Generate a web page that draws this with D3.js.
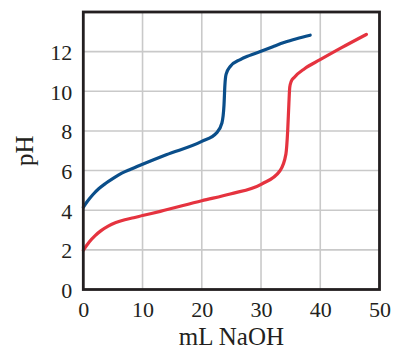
<!DOCTYPE html>
<html><head><meta charset="utf-8">
<script src="https://cdn.jsdelivr.net/npm/d3@7"></script>
<style>html,body{margin:0;padding:0;background:#fff;}svg{display:block;}</style>
</head><body>
<svg id="chart" width="393" height="349"></svg>
<script>
const xTicks = [0, 10, 20, 30, 40, 50];
const yTicks = [0, 2, 4, 6, 8, 10, 12];
const xLabel = "mL NaOH";
const yLabel = "pH";
const blueX = [0, 0.7, 1.6, 2.6, 3.8, 5.1, 6.5, 8, 10, 14, 20, 22.5, 23.4, 23.75, 23.9, 24.1, 24.8, 26.5, 28, 30, 32, 34, 36, 38.3];
const blueY = [4.15, 4.45, 4.78, 5.08, 5.36, 5.62, 5.87, 6.07, 6.32, 6.8, 7.47, 7.9, 8.4, 9.3, 10.3, 10.85, 11.25, 11.6, 11.8, 12.02, 12.25, 12.47, 12.65, 12.83];
const redX = [0, 1, 2, 3, 4.2, 5.5, 7, 8.5, 10, 13, 20, 24.8, 30.1, 33.2, 34.2, 34.5, 34.7, 34.85, 35.1, 35.6, 37.4, 39.9, 43.6, 47.8];
const redY = [1.98, 2.4, 2.72, 2.97, 3.2, 3.38, 3.52, 3.62, 3.73, 3.94, 4.48, 4.82, 5.32, 5.99, 6.83, 8.0, 9.35, 10.2, 10.5, 10.7, 11.15, 11.58, 12.2, 12.87];

const svg = d3.select("#chart");
const L = 83.3, R = 379.5, T = 12, B = 289.5;
const x = d3.scaleLinear().domain([0, 50]).range([L, R]);
const y = d3.scaleLinear().domain([0, 14]).range([B, T]);
const font = "'Liberation Serif', 'Times New Roman', serif";
const ink = "#231f20";

// grid
svg.append("g").selectAll("line").data(xTicks.slice(1, -1)).join("line")
  .attr("x1", d => x(d)).attr("x2", d => x(d)).attr("y1", T).attr("y2", B)
  .attr("stroke", "#c9c9c9").attr("stroke-width", 1.6);
svg.append("g").selectAll("line").data(yTicks.slice(1)).join("line")
  .attr("y1", d => y(d)).attr("y2", d => y(d)).attr("x1", L).attr("x2", R)
  .attr("stroke", "#c9c9c9").attr("stroke-width", 1.6);

// curves
const line = d3.line().x(d => x(d[0])).y(d => y(d[1])).curve(d3.curveMonotoneX);
svg.append("path").datum(blueX.map((v, i) => [v, blueY[i]]))
  .attr("d", line).attr("fill", "none").attr("stroke", "#0a4e8a").attr("stroke-width", 3.2)
  .attr("stroke-linecap", "round").attr("stroke-linejoin", "round");
svg.append("path").datum(redX.map((v, i) => [v, redY[i]]))
  .attr("d", line).attr("fill", "none").attr("stroke", "#e5333f").attr("stroke-width", 3.2)
  .attr("stroke-linecap", "round").attr("stroke-linejoin", "round");

// frame
svg.append("rect").attr("x", L).attr("y", T).attr("width", R - L).attr("height", B - T)
  .attr("fill", "none").attr("stroke", ink).attr("stroke-width", 2.8);

// axes tick labels
const xa = svg.append("g").attr("transform", `translate(0,${B})`)
  .call(d3.axisBottom(x).tickValues(xTicks).tickSize(0).tickPadding(0));
xa.select(".domain").remove();
xa.selectAll("text").attr("font-family", font).attr("font-size", 22).attr("fill", ink)
  .attr("dy", null).attr("y", 27);
const ya = svg.append("g").attr("transform", `translate(${L},0)`)
  .call(d3.axisLeft(y).tickValues(yTicks).tickSize(0).tickPadding(11));
ya.select(".domain").remove();
ya.selectAll("text").attr("font-family", font).attr("font-size", 22).attr("fill", ink)
  .attr("dy", "0.36em");

// titles
svg.append("text").attr("x", (L + R) / 2).attr("y", 345).attr("text-anchor", "middle")
  .attr("font-family", font).attr("font-size", 25).attr("fill", ink).text(xLabel);
svg.append("text").attr("transform", `translate(33,${(T + B) / 2}) rotate(-90)`)
  .attr("text-anchor", "middle").attr("font-family", font).attr("font-size", 25).attr("fill", ink).text(yLabel);
</script>
</body></html>
